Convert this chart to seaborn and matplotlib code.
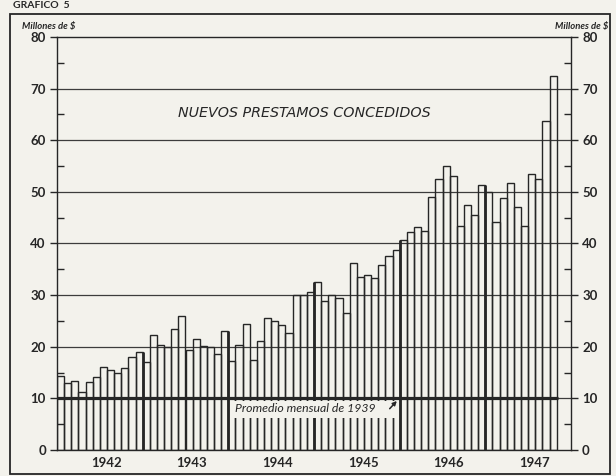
import numpy as np
import pandas as pd
import matplotlib
matplotlib.use("Agg")
import matplotlib.pyplot as plt
import matplotlib.transforms as mtransforms
from matplotlib.patches import Rectangle
import seaborn as sns

# ---------------- data (millones de $, monthly) ----------------
years = [1942, 1943, 1944, 1945, 1946, 1947]
values_1942 = [14.3, 13.0, 13.3, 11.2, 13.1, 14.2, 16.1, 15.4, 15.0, 15.8, 18.1, 18.9]
values_1943 = [17.1, 22.3, 20.4, 20.0, 23.4, 25.9, 19.4, 21.5, 20.2, 20.0, 18.5, 23.1]
values_1944 = [17.2, 20.3, 24.4, 17.4, 21.2, 25.5, 25.0, 24.3, 22.6, 30.1, 30.1, 30.7]
values_1945 = [32.5, 28.9, 30.0, 29.5, 26.6, 36.2, 33.5, 33.9, 33.3, 35.8, 37.5, 38.8]
values_1946 = [40.6, 42.3, 43.1, 42.5, 49.0, 52.4, 55.1, 53.1, 43.4, 47.4, 45.6, 51.3]
values_1947 = [49.9, 44.2, 48.8, 51.8, 47.1, 43.4, 53.4, 52.5, 63.7, 72.4]
average_1939 = 10
y_ticks = [0, 10, 20, 30, 40, 50, 60, 70, 80]
title_text = "NUEVOS PRESTAMOS CONCEDIDOS"
avg_text = "Promedio mensual de 1939"
unit_text = "Millones de $"
chart_tag = "GRAFICO  5"

yearly = [values_1942, values_1943, values_1944, values_1945, values_1946, values_1947]
labels, vals = [], []
for yr, vs in zip(years, yearly):
    for m, v in enumerate(vs):
        labels.append(f"{yr}-{m + 1:02d}")
        vals.append(v)
df = pd.DataFrame({"mes": labels, "valor": vals})

BG = "#f3f2ec"
INK = "#262626"
GRID = "#3c3c3c"

sns.set_theme(style="white")
plt.rcParams["font.family"] = ["Lato", "DejaVu Sans"]

W, H = 616, 476
fig = plt.figure(figsize=(W / 100, H / 100), dpi=100, facecolor=BG)
ax = fig.add_axes([57 / W, 26 / H, 514 / W, 413 / H])
ax.set_facecolor(BG)

sns.barplot(data=df, x="mes", y="valor", order=labels, ax=ax, width=1.0,
            fill=False, color=INK, saturation=1, linewidth=1.0,
            errorbar=None, zorder=3)

n = len(vals)
ax.set_xlim(-0.5, 12 * len(years) - 0.5)
ax.set_ylim(0, 80)
ax.set_xlabel("")
ax.set_ylabel("")

# horizontal grid
for t in y_ticks[1:-1]:
    ax.axhline(t, color=GRID, lw=0.9, zorder=1)

# year separators (thicker bar edges)
for k in range(1, len(years)):
    i = 12 * k
    if i < n:
        top = max(vals[i - 1], vals[i])
        ax.vlines(i - 0.5, 0, top, color=INK, lw=2.0, zorder=4)

# blank patch under the average label (bars interrupted there)
ax.add_patch(Rectangle((24.0, 6.2), 23.3, 3.3, fc=BG, ec="none", zorder=5))
# 1939 average line
ax.hlines(average_1939, -0.5, n - 0.3, color=INK, lw=2.3, zorder=6)
ax.text(24.4, 8.0, avg_text, ha="left", va="center", fontsize=8.8,
        style="italic", color=INK, zorder=7)
ax.annotate("", xy=(47.1, 9.5), xytext=(46.1, 8.0),
            arrowprops=dict(arrowstyle="-|>", color=INK, lw=1.1,
                            shrinkA=0, shrinkB=0, mutation_scale=6),
            zorder=7)

# y ticks both sides
ax.set_xticks([])
ax.set_yticks(y_ticks)
ax.set_yticks(np.arange(5, 80, 10), minor=True)
ax.tick_params(axis="y", which="major", direction="out", length=5, width=1,
               color=INK, left=True, right=True, labelleft=True, labelright=True,
               labelsize=9.5, labelcolor=INK, pad=3)
ax.tick_params(axis="y", which="minor", direction="in", length=5, width=1,
               color=INK, left=True, right=True)
for lab in ax.get_yticklabels():
    lab.set_fontweight("bold")
for s in ax.spines.values():
    s.set_visible(True)
    s.set_color(INK)
    s.set_linewidth(1.0)

# year labels
trans = mtransforms.blended_transform_factory(ax.transData, ax.transAxes)
for k, yr in enumerate(years):
    ax.text(12 * k + 6.4, -0.031, str(yr), transform=trans, ha="center",
            va="center", fontsize=9.5, fontweight="bold", color=INK)

# title inside plot
ax.text(34.2, 65.3, title_text, ha="center", va="center", fontsize=10.3,
        style="italic", color=INK, family=["DejaVu Sans"], zorder=6)

# unit labels
fig.text(22 / W, 1 - 26 / H, unit_text, ha="left", va="center", fontsize=6.8,
         style="italic", fontweight="bold", color=INK)
fig.text(608 / W, 1 - 26 / H, unit_text, ha="right", va="center", fontsize=6.8,
         style="italic", fontweight="bold", color=INK)

# chart tag and outer frame
fig.text(13 / W, 1 - 1 / H, chart_tag, ha="left", va="top", fontsize=7.5,
         fontweight="bold", color=INK)
fig.patches.append(Rectangle((10 / W, 2 / H), 600 / W, 460 / H,
                             transform=fig.transFigure, fill=False,
                             ec=INK, lw=1.3))

fig.savefig("out.png", dpi=100, facecolor=BG)
